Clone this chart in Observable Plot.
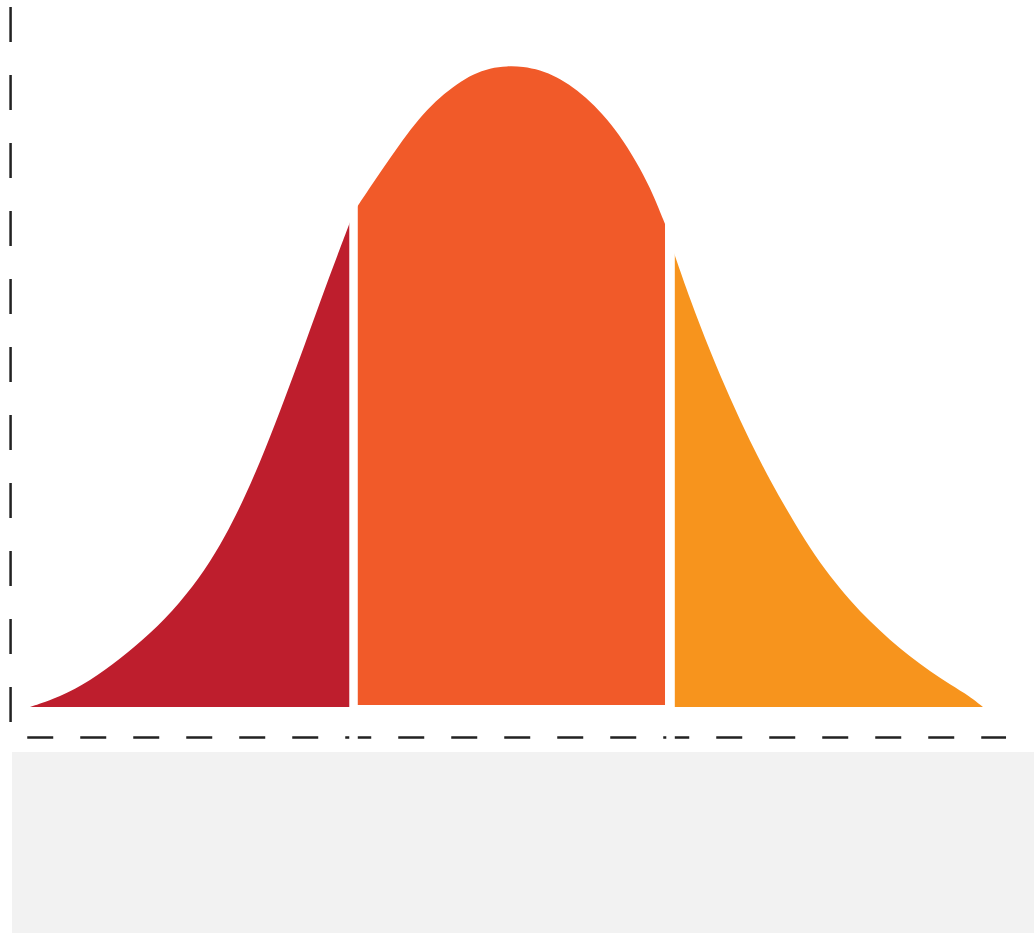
<!DOCTYPE html>
<html>
<head>
<meta charset="utf-8">
<script src="https://cdn.jsdelivr.net/npm/d3@7"></script>
<script src="https://cdn.jsdelivr.net/npm/@observablehq/plot@0.6"></script>
<style>
  html, body { margin: 0; padding: 0; background: #ffffff; }
  #chart svg { display: block; }
  #panel { margin-left: 12px; height: 181px; background: #f2f2f2; }
</style>
</head>
<body>
<div id="chart"></div>
<div id="panel"></div>
<script>
// Left tail (red): score vs. relative density (% of peak)
const redX = [-4.017, -3.767, -3.517, -3.267, -3.017, -2.767, -2.558, -2.392, -2.225, -2.058, -1.892, -1.725, -1.558, -1.35];
const redY = [0, 1.56, 4.06, 7.49, 11.39, 16.22, 21.37, 26.52, 32.76, 40.09, 48.21, 56.63, 65.37, 75.66];

// Middle band (orange)
const midX = [-1.292, -1.158, -1.017, -0.875, -0.742, -0.60, -0.458, -0.325, -0.183, -0.042, 0.092, 0.233, 0.375, 0.508, 0.65, 0.792, 0.925, 1.067, 1.175, 1.275];
const midY = [78.0, 81.75, 85.65, 89.39, 92.51, 95.16, 97.19, 98.75, 99.69, 100, 99.92, 99.38, 98.28, 96.72, 94.54, 91.73, 88.46, 84.09, 80.03, 75.35];

// Right tail (amber)
const ambX = [1.35, 1.483, 1.65, 1.817, 1.983, 2.15, 2.317, 2.483, 2.65, 2.817, 2.983, 3.15, 3.317, 3.483, 3.65, 3.817, 3.925];
const ambY = [70.83, 63.59, 55.48, 48.14, 41.44, 35.35, 29.89, 24.74, 20.37, 16.63, 13.35, 10.45, 7.89, 5.58, 3.53, 1.65, 0];

// Band boundaries (scores) and axis guides
const dividers = [-1.325, 1.317];
const baseAxis = [{y: -4.68, x1: -4.04, x2: 4.117}];
const sideAxis = [{x: -4.183, y1: -2.34, y2: 109.2}];

const toRows = (xs, ys) => xs.map((x, i) => ({x, y: ys[i]}));
const red = toRows(redX, redY);
const mid = toRows(midX, midY);
const amb = toRows(ambX, ambY);

const chart = Plot.plot({
  width: 1034,
  height: 752,
  margin: 0,
  style: {background: "#ffffff"},
  x: {domain: [-4.267, 4.35], axis: null},
  y: {domain: [-7.02, 110.3], axis: null},
  marks: [
    Plot.areaY(red, {x: "x", y: "y", fill: "#be1e2d", curve: "basis"}),
    Plot.areaY(mid, {x: "x", y1: 0.3, y2: "y", fill: "#f15a29", curve: "basis"}),
    Plot.areaY(amb, {x: "x", y: "y", fill: "#f7941d", curve: "basis"}),
    Plot.ruleY(baseAxis, {y: "y", x1: "x1", x2: "x2", stroke: "#222", strokeWidth: 2.5, strokeDasharray: "26,27"}),
    Plot.ruleX(sideAxis, {x: "x", y1: "y1", y2: "y2", stroke: "#222", strokeWidth: 2.5, strokeDasharray: "35,33"}),
    Plot.ruleX(dividers, {y1: -6.5, y2: 110, stroke: "#ffffff", strokeWidth: 8.5})
  ]
});
document.getElementById("chart").appendChild(chart);
</script>
</body>
</html>
